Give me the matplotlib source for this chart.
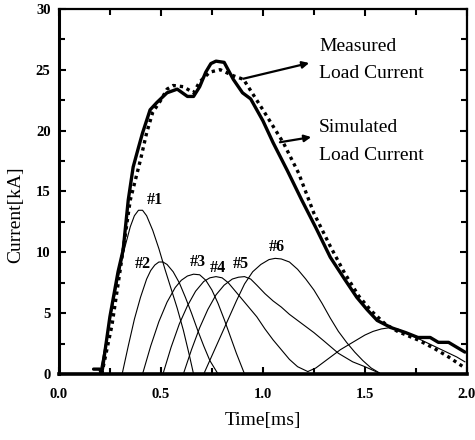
import matplotlib
matplotlib.use("Agg")
import matplotlib.pyplot as plt
from matplotlib.ticker import MultipleLocator

# * Data (time in ms, current in kA)
meas_t = [0.17, 0.20, 0.21, 0.25, 0.29, 0.315, 0.34, 0.364, 0.39, 0.41, 0.447, 0.48, 0.53,
          0.58, 0.63, 0.66, 0.69, 0.72, 0.745, 0.77, 0.81, 0.855, 0.90, 0.94, 1.00, 1.05,
          1.12, 1.19, 1.26, 1.33, 1.40, 1.46, 1.51, 1.56, 1.63, 1.70, 1.76, 1.82, 1.86,
          1.91, 1.95, 1.99]
meas_i = [0.4, 0.4, 0.0, 4.7, 8.4, 10.2, 14.3, 17.0, 18.6, 19.8, 21.7, 22.3, 23.1,
          23.4, 22.8, 22.8, 23.6, 24.8, 25.5, 25.7, 25.6, 24.2, 23.1, 22.6, 20.8, 19.0,
          16.7, 14.3, 12.0, 9.6, 7.8, 6.3, 5.3, 4.4, 3.8, 3.4, 3.0, 3.0, 2.6,
          2.6, 2.2, 1.8]

sim_t = [0.21, 0.26, 0.30, 0.35, 0.40, 0.43, 0.46, 0.50, 0.53, 0.56, 0.61, 0.66, 0.69,
         0.74, 0.79, 0.855, 0.905, 1.00, 1.10, 1.175, 1.25, 1.33, 1.40, 1.47, 1.53,
         1.60, 1.66, 1.76, 1.84, 1.91, 1.99]
sim_i = [0.0, 4.0, 8.5, 14.3, 17.6, 19.8, 21.5, 22.5, 23.4, 23.7, 23.6, 23.1, 24.0,
         24.8, 25.0, 24.5, 24.2, 21.7, 19.0, 16.5, 13.2, 10.5, 8.3, 6.4, 5.2,
         4.1, 3.5, 2.8, 2.1, 1.4, 0.5]

# individual module pulses #1 - #7
p1_t = [0.20, 0.24, 0.28, 0.32, 0.35, 0.37, 0.39, 0.41, 0.43, 0.46, 0.49, 0.52, 0.55,
        0.58, 0.61, 0.64, 0.66]
p1_i = [0.0, 3.5, 7.0, 10.2, 12.1, 13.0, 13.45, 13.45, 13.0, 11.8, 10.3, 8.6, 7.0,
        5.4, 3.6, 1.5, 0.0]
p2_t = [0.31, 0.34, 0.37, 0.40, 0.43, 0.45, 0.47, 0.49, 0.51, 0.53, 0.56, 0.59, 0.62,
        0.65, 0.68, 0.71, 0.74, 0.78]
p2_i = [0.0, 2.3, 4.5, 6.3, 7.8, 8.5, 8.95, 9.2, 9.2, 9.0, 8.4, 7.5, 6.3,
        5.0, 3.6, 2.3, 1.1, 0.0]
p3_t = [0.41, 0.45, 0.49, 0.53, 0.57, 0.60, 0.63, 0.66, 0.69, 0.72, 0.75, 0.78, 0.81,
        0.84, 0.87, 0.91]
p3_i = [0.0, 2.3, 4.3, 5.9, 7.1, 7.7, 8.05, 8.2, 8.15, 7.7, 6.9, 5.8, 4.5,
        3.1, 1.7, 0.0]
p4_t = [0.51, 0.55, 0.59, 0.63, 0.67, 0.71, 0.74, 0.77, 0.80, 0.83, 0.86, 0.89, 0.93,
        0.97, 1.01, 1.05, 1.09, 1.13, 1.17, 1.22]
p4_i = [0.0, 2.2, 4.1, 5.6, 6.8, 7.6, 7.9, 8.0, 7.9, 7.5, 6.9, 6.3, 5.5,
        4.7, 3.7, 2.8, 2.0, 1.2, 0.6, 0.2]
p5_t = [0.61, 0.65, 0.69, 0.73, 0.77, 0.81, 0.85, 0.88, 0.91, 0.94, 0.97, 1.01, 1.05,
        1.09, 1.13, 1.17, 1.21, 1.25, 1.30, 1.37, 1.44, 1.50, 1.58]
p5_i = [0.0, 2.0, 3.8, 5.3, 6.5, 7.3, 7.8, 7.95, 8.0, 7.8, 7.3, 6.6, 6.0,
        5.5, 4.9, 4.4, 3.9, 3.4, 2.7, 1.7, 1.0, 0.6, 0.0]
p6_t = [0.71, 0.75, 0.79, 0.83, 0.87, 0.91, 0.95, 0.99, 1.03, 1.06, 1.09, 1.13, 1.17,
        1.21, 1.25, 1.29, 1.33, 1.37, 1.41, 1.45, 1.49, 1.53, 1.57]
p6_i = [0.0, 1.5, 3.0, 4.5, 6.0, 7.4, 8.4, 9.0, 9.4, 9.5, 9.45, 9.2, 8.6,
        7.8, 6.9, 5.8, 4.6, 3.5, 2.6, 1.8, 1.1, 0.5, 0.1]
p7_t = [1.22, 1.26, 1.30, 1.34, 1.38, 1.42, 1.46, 1.50, 1.54, 1.58, 1.62, 1.66, 1.70,
        1.75, 1.80, 1.85, 1.90, 1.95, 1.99]
p7_i = [0.2, 0.5, 1.0, 1.5, 2.0, 2.4, 2.8, 3.2, 3.5, 3.7, 3.8, 3.7, 3.4,
        3.0, 2.6, 2.2, 1.8, 1.4, 1.0]
pulses = [(p1_t, p1_i), (p2_t, p2_i), (p3_t, p3_i), (p4_t, p4_i),
          (p5_t, p5_i), (p6_t, p6_i), (p7_t, p7_i)]

# labels for the pulses
tag_names = ["#1", "#2", "#3", "#4", "#5", "#6"]
tag_t = [0.47, 0.41, 0.68, 0.78, 0.89, 1.07]
tag_i = [14.3, 9.0, 9.2, 8.7, 9.0, 10.4]

serif = ["Liberation Serif", "DejaVu Serif"]

# * Create graph
fig = plt.figure(figsize=(4.75, 4.4), dpi=100)
ax = fig.add_axes([0.124, 0.15, 0.859, 0.83])

for pt, pi in pulses:
    ax.plot(pt, pi, color="black", lw=0.8)

ax.plot(meas_t, meas_i, color="black", lw=2.4, solid_capstyle="round")
ax.plot(sim_t, sim_i, color="black", lw=2.4, linestyle=(0, (1, 1.2)))

for name, x, y in zip(tag_names, tag_t, tag_i):
    ax.text(x, y, name, ha="center", va="center", fontsize=11.5,
            fontweight="bold", family=serif)

# * Arrows pointing at the texts
ax.annotate("", xy=(1.24, 25.6), xytext=(0.89, 24.2),
            arrowprops=dict(arrowstyle="-|>", color="black", lw=1.6, mutation_scale=10))
ax.annotate("", xy=(1.25, 19.5), xytext=(1.07, 19.0),
            arrowprops=dict(arrowstyle="-|>", color="black", lw=1.6, mutation_scale=10))
ax.text(1.275, 25.8, "Measured\nLoad Current", ha="left", va="center",
        fontsize=14, family=serif, linespacing=1.8)
ax.text(1.275, 19.1, "Simulated\nLoad Current", ha="left", va="center",
        fontsize=14, family=serif, linespacing=1.8)

# * Axes, ticks, labels
ax.set_xlim(0, 2.0)
ax.set_ylim(0, 30)
ax.xaxis.set_major_locator(MultipleLocator(0.5))
ax.xaxis.set_minor_locator(MultipleLocator(0.25))
ax.yaxis.set_major_locator(MultipleLocator(5))
ax.yaxis.set_minor_locator(MultipleLocator(2.5))
ax.tick_params(which="both", direction="in", top=True, right=True, width=1.5)
ax.tick_params(which="major", length=5)
ax.tick_params(which="minor", length=4)
ax.set_xticks([0, 0.5, 1.0, 1.5, 2.0], ["0.0", "0.5", "1.0", "1.5", "2.0"])
ax.set_yticks([0, 5, 10, 15, 20, 25, 30], ["0", "5", "10", "15", "20", "25", "30"])
for lab in ax.get_xticklabels() + ax.get_yticklabels():
    lab.set_family(serif)
    lab.set_fontweight("bold")
    lab.set_fontsize(10.5)
ax.tick_params(axis="x", pad=10)
ax.tick_params(axis="y", pad=6)

ax.spines["bottom"].set_linewidth(2.6)
ax.spines["left"].set_linewidth(2.2)
ax.spines["top"].set_linewidth(1.6)
ax.spines["right"].set_linewidth(1.6)

ax.set_xlabel("Time[ms]", family=serif, fontsize=14)
ax.set_ylabel("Current[kA]", family=serif, fontsize=14)
ax.xaxis.set_label_coords(0.5, -0.105)
ax.yaxis.set_label_coords(-0.085, 0.436)

fig.savefig("out.png", dpi=100)
